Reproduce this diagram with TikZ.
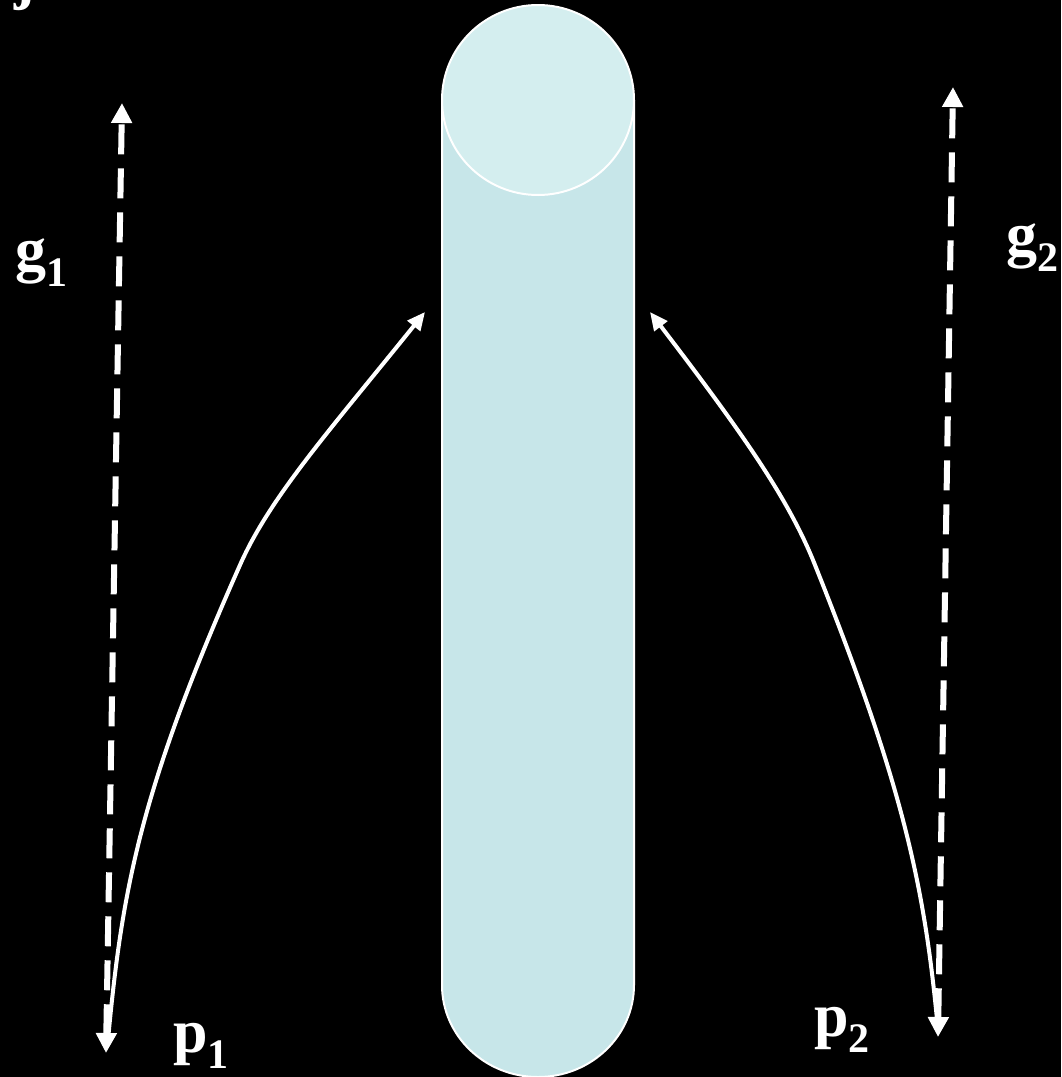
\documentclass[tikz,border=0pt]{standalone}
\usepackage{fontspec}
\setmainfont{Liberation Serif}
\usetikzlibrary{arrows.meta}
\definecolor{body}{HTML}{C7E6E9}
\definecolor{topc}{HTML}{D4EEEF}
\tikzset{
  lbl/.style={anchor=base west,inner sep=0pt,text=white,font=\fontsize{62}{70}\selectfont\bfseries},
  dasharr/.style={white,line width=6pt,dash pattern=on 30pt off 14pt,{Triangle[width=20pt,length=20pt]}-{Triangle[width=20pt,length=20pt]}},
  solidarr/.style={white,line width=4pt,-{Triangle[width=16pt,length=18pt]}}
}
\newcommand{\sbs}[1]{\raisebox{-16pt}{\fontsize{42}{46}\selectfont\bfseries #1}}
\begin{document}
\begin{tikzpicture}[x=1pt,y=-1pt]
\fill[black] (0,0) rectangle (1061,1077);
\useasboundingbox (0,0) rectangle (1061,1077);
% cylinder
\fill[body] (442,100) -- (442,985) arc[start angle=180,end angle=0,x radius=96,y radius=92] -- (634,100) -- cycle;
\draw[white,line width=2pt] (442,100) -- (442,985) arc[start angle=180,end angle=0,x radius=96,y radius=92] -- (634,100);
\filldraw[fill=topc,draw=white,line width=2pt] (538,100) ellipse[x radius=96,y radius=95];
% partial letter at top-left
\node[lbl] (jj) at (14,-3) {j};
% coordinates
\coordinate (g1b) at (106,1053);
\coordinate (g1t) at (122,103);
\coordinate (g2b) at (938,1037);
\coordinate (g2t) at (953,87);
\coordinate (c1s) at (108,1040);
\coordinate (c1m) at (240,565);
\coordinate (c1e) at (425,312);
\coordinate (c2s) at (938,1030);
\coordinate (c2m) at (815,565);
\coordinate (c2e) at (650,312);
% dashed arrows
\draw[dasharr] (g1b) -- (g1t);
\draw[dasharr] (g2b) -- (g2t);
% solid curves
\draw[solidarr] (c1s) .. controls (122,890) and (140,790) .. (c1m) .. controls (270,497) and (330,430) .. (c1e);
\draw[solidarr] (c2s) .. controls (925,890) and (905,790) .. (c2m) .. controls (788,497) and (740,430) .. (c2e);
% labels
\node[lbl] (g1) at (15,270) {g\sbs{1}};
\node[lbl] (g2) at (1006,255) {g\sbs{2}};
\node[lbl] (p1) at (173,1052) {p\sbs{1}};
\node[lbl] (p2) at (814,1036) {p\sbs{2}};
\end{tikzpicture}
\end{document}
